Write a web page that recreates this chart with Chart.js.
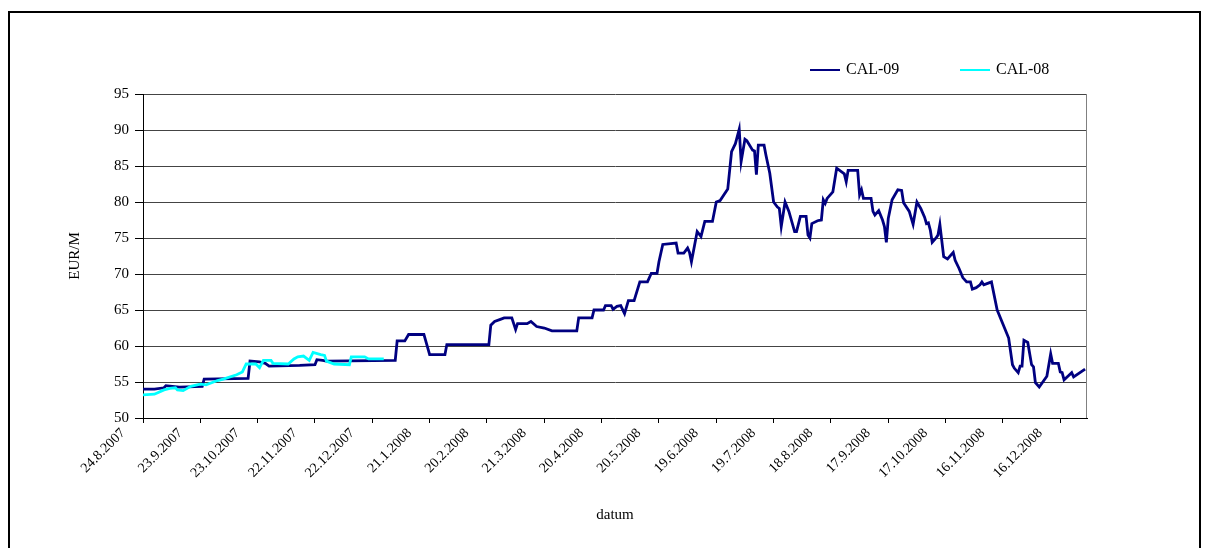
<!DOCTYPE html>
<html>
<head>
<meta charset="utf-8">
<script src="https://cdn.jsdelivr.net/npm/chart.js@4/dist/chart.umd.min.js"></script>
<style>
    html, body { margin: 0; padding: 0; background: #fff; }
    #wrap { position: relative; width: 1210px; height: 548px; overflow: hidden; }
    #frame { position: absolute; left: 8px; top: 11px; width: 1189px; height: 560px; border: 2px solid #000; }
    canvas { position: absolute; left: 0; top: 0; }
    .item { position: absolute; top: 60px; font: 16px "Liberation Serif", serif; line-height: 18px; white-space: nowrap; }
    .swatch { display: inline-block; width: 30px; height: 2px; vertical-align: middle; margin-right: 6px; }
</style>
</head>
<body>
<div id="wrap">
    <div id="frame"></div>
    <canvas id="lineChart" width="1210" height="548"></canvas>
    <div id="legend"></div>
</div>
<script>
// x values are days counted from 24.8.2007
const tickLabels = [
    '24.8.2007', '23.9.2007', '23.10.2007', '22.11.2007', '22.12.2007',
    '21.1.2008', '20.2.2008', '21.3.2008', '20.4.2008', '20.5.2008',
    '19.6.2008', '19.7.2008', '18.8.2008', '17.9.2008', '17.10.2008',
    '16.11.2008', '16.12.2008'
];
const seriesNames = ['CAL-09', 'CAL-08'];
const seriesColors = ['#000080', '#00FFFF'];

const days09 = [0, 6, 11, 12, 19, 31, 32, 55, 56, 61, 64, 66, 82, 90, 91, 94, 96, 132, 133, 137,
    139, 147, 150, 158, 159, 181, 182, 184, 187, 189, 193, 195, 196, 201, 203, 206, 210, 214, 227, 228,
    235, 236, 241, 242, 245, 246, 248, 250, 252, 254, 257, 260, 264, 266, 269, 270, 272, 279, 280, 283,
    285, 286, 287, 290, 292, 294, 298, 300, 302, 306, 308, 310, 312, 313, 315, 316, 319, 320, 321, 322,
    325, 326, 328, 330, 332, 333, 334, 336, 338, 341, 342, 344, 347, 348, 349, 350, 353, 355, 356, 357,
    358, 361, 363, 367, 368, 369, 374, 375, 376, 377, 381, 382, 383, 385, 387, 388, 389, 390, 392, 395,
    397, 398, 401, 403, 405, 407, 409, 410, 411, 412, 413, 415, 416, 417, 419, 421, 424, 425, 427, 429,
    431, 433, 434, 436, 438, 439, 440, 442, 444, 447, 453, 455, 456, 458, 459, 460, 461, 463, 465, 466,
    467, 469, 473, 475, 476, 479, 480, 481, 482, 484, 486, 487, 493];
const values09 = [54.0, 54.0, 54.2, 54.5, 54.3, 54.4, 55.4, 55.5, 57.9, 57.8, 57.6, 57.2, 57.3, 57.4, 58.1, 58.0, 57.9, 58.0, 60.7, 60.7,
    61.6, 61.6, 58.8, 58.8, 60.2, 60.2, 62.9, 63.4, 63.7, 63.9, 63.9, 62.3, 63.1, 63.1, 63.4, 62.7, 62.5, 62.1, 62.1, 63.9,
    63.9, 65.0, 65.0, 65.6, 65.6, 65.1, 65.5, 65.6, 64.5, 66.3, 66.3, 68.9, 68.9, 70.1, 70.1, 71.7, 74.1, 74.3, 72.9, 72.9,
    73.6, 73.0, 71.7, 75.9, 75.2, 77.3, 77.3, 80.0, 80.2, 81.8, 87.0, 88.1, 90.1, 85.6, 88.7, 88.5, 87.2, 87.1, 83.8, 87.9,
    87.9, 86.5, 84.0, 80.0, 79.3, 79.1, 76.6, 80.0, 78.7, 75.9, 75.9, 78.0, 78.0, 75.4, 75.0, 77.0, 77.4, 77.5, 80.3, 79.8,
    80.5, 81.4, 84.7, 83.9, 82.8, 84.4, 84.4, 81.0, 81.7, 80.5, 80.5, 78.7, 78.2, 78.8, 77.5, 76.6, 74.4, 77.7, 80.3, 81.7,
    81.6, 79.9, 78.7, 76.9, 80.0, 79.1, 77.9, 77.0, 77.1, 76.1, 74.4, 75.0, 75.4, 76.9, 72.4, 72.1, 73.0, 71.9, 70.8, 69.5,
    68.9, 68.9, 67.9, 68.1, 68.5, 68.9, 68.5, 68.7, 68.9, 65.0, 61.1, 57.4, 56.9, 56.3, 57.2, 57.2, 60.8, 60.5, 57.4, 57.1,
    54.9, 54.3, 55.8, 58.9, 57.6, 57.6, 56.4, 56.3, 55.3, 55.8, 56.3, 55.7, 56.8];

const days08 = [0, 6, 11, 14, 17, 18, 21, 25, 30, 33, 39, 42, 49, 52, 54, 59, 61, 63, 67, 68,
    76, 79, 81, 84, 87, 89, 93, 95, 96, 100, 108, 109, 116, 118, 126];
const values08 = [53.2, 53.3, 53.9, 54.1, 54.2, 53.9, 53.8, 54.4, 54.7, 54.6, 55.2, 55.4, 56.0, 56.4, 57.5, 57.5, 57.0, 58.0, 58.0, 57.6,
    57.5, 58.2, 58.5, 58.6, 58.0, 59.1, 58.8, 58.7, 57.9, 57.5, 57.4, 58.5, 58.5, 58.2, 58.2];

const toPoints = (xs, ys) => xs.map((x, i) => ({ x: x, y: ys[i] }));
const serif = '"Liberation Serif", "Times New Roman", serif';

// legend as plain html
const legend = document.getElementById('legend');
[810, 960].forEach((left, i) => {
    const item = document.createElement('div');
    item.className = 'item';
    item.style.left = left + 'px';
    item.innerHTML = '<span class="swatch" style="background:' + seriesColors[i] + '"></span>' + seriesNames[i];
    legend.appendChild(item);
});

const plotBorder = {
    id: 'plotBorder',
    beforeDatasetsDraw(chart) {
        const { ctx, chartArea } = chart;
        ctx.save();
        ctx.strokeStyle = '#808080';
        ctx.lineWidth = 1;
        ctx.beginPath();
        ctx.moveTo(chartArea.right - 0.5, chartArea.top);
        ctx.lineTo(chartArea.right - 0.5, chartArea.bottom);
        ctx.stroke();
        ctx.restore();
    }
};

const lineConfig = {
    type: 'line',
    data: {
        datasets: [{
            label: seriesNames[0],
            data: toPoints(days09, values09),
            borderColor: seriesColors[0],
            borderWidth: 2.8,
            pointRadius: 0,
            tension: 0,
            order: 2
        }, {
            label: seriesNames[1],
            data: toPoints(days08, values08),
            borderColor: seriesColors[1],
            borderWidth: 2.8,
            pointRadius: 0,
            tension: 0,
            order: 1
        }]
    },
    options: {
        responsive: false,
        animation: false,
        layout: {
            padding: { left: 66, right: 123, top: 94, bottom: 24 }
        },
        scales: {
            x: {
                type: 'linear',
                min: 0,
                max: 494,
                afterFit: (scale) => { scale.height = 106; },
                border: { display: true, color: '#000', width: 1 },
                grid: { drawOnChartArea: false, tickLength: 5, color: '#000' },
                ticks: {
                    stepSize: 30,
                    includeBounds: false,
                    autoSkip: false,
                    maxRotation: 45,
                    minRotation: 45,
                    labelOffset: -20,
                    padding: 2,
                    color: '#000',
                    font: { family: serif, size: 14 },
                    callback: (value) => tickLabels[Math.round(value / 30)]
                },
                title: {
                    display: true,
                    text: 'datum',
                    color: '#000',
                    padding: 0,
                    font: { family: serif, size: 15 }
                }
            },
            y: {
                min: 50,
                max: 95,
                afterFit: (scale) => { scale.width = 77; },
                border: { display: true, color: '#000', width: 1 },
                grid: { color: '#444', tickColor: '#000', tickLength: 8 },
                ticks: {
                    stepSize: 5,
                    padding: 6,
                    color: '#000',
                    font: { family: serif, size: 15 }
                },
                title: {
                    display: true,
                    text: 'EUR/M',
                    color: '#000',
                    padding: 0,
                    font: { family: serif, size: 15 }
                }
            }
        },
        plugins: {
            legend: { display: false },
            tooltip: { enabled: false }
        }
    },
    plugins: [plotBorder]
};

let lineChart = new Chart(
    document.getElementById('lineChart'),
    lineConfig
);
</script>
</body>
</html>
